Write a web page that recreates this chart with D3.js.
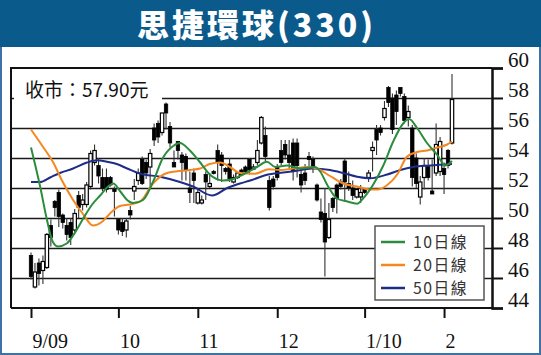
<html>
<head>
  <meta charset="utf-8">
  <script src="https://d3js.org/d3.v7.min.js"></script>
  <style>
    body { margin: 0; background: #fff; }
    .ylab { font-family: "Liberation Serif", "DejaVu Serif", serif; font-size: 21px; fill: #111; }
    .xlab { font-family: "Liberation Serif", "DejaVu Serif", serif; font-size: 20px; fill: #111; }
    .leg { font-family: "Noto Sans CJK TC", "Noto Sans", sans-serif; font-size: 15.8px; fill: #333; letter-spacing: 1.5px; }
  </style>
</head>
<body>
  <svg id="chart" width="541" height="355"></svg>
  <script>
    // daily candles, Sep 2009 - early Feb 2010
    const opens = [47.5,45.4,47.0,46.5,46.7,49.5,51.1,51.7,50.2,49.5,49.7,49.2,51.5,50.9,50.9,52.1,53.7,53.5,52.7,52.7,52.7,51.9,
      49.9,49.7,49.2,50.5,51.8,52.5,53.9,53.7,53.4,56.0,56.3,55.7,57.6,56.1,53.7,55.1,54.2,54.1,52.0,53.0,
      51.0,51.0,52.9,52.1,53.1,54.5,54.2,53.3,53.6,52.4,52.7,53.2,53.4,53.9,53.3,53.7,55.0,55.5,52.5,52.6,
      53.4,54.5,54.9,54.2,55.0,55.0,52.9,53.0,54.1,53.9,52.2,50.4,50.3,48.7,51.3,52.2,52.4,53.8,52.3,52.0,51.4,51.4,
      51.9,52.7,54.5,55.9,56.0,56.7,58.7,58.0,58.2,58.7,58.1,56.7,56.0,54.0,51.4,52.7,53.5,51.8,53.0,53.1,
      53.3,54.5,55.0];
    const highs = [47.7,47.0,47.3,47.5,49.0,49.9,51.2,51.9,50.3,50.0,50.0,50.6,51.8,51.6,52.4,54.5,54.9,54.0,53.3,53.3,52.8,52.1,
      49.9,50.0,50.0,50.8,52.6,53.3,54.1,53.9,54.6,56.3,56.5,57.0,57.7,56.4,54.5,55.1,54.4,54.3,53.1,53.3,
      52.0,51.5,53.1,53.0,53.2,54.9,54.4,53.4,54.0,52.9,53.1,53.3,53.5,54.0,53.6,55.2,56.8,56.1,52.8,52.8,
      53.6,55.2,55.2,55.2,55.3,55.3,53.2,53.6,54.4,54.1,52.3,51.3,52.0,51.0,51.4,52.3,52.6,54.0,53.1,52.5,52.0,52.2,
      52.0,53.2,55.1,56.2,56.2,57.8,58.8,58.3,58.5,58.7,58.3,57.5,56.2,54.3,52.8,54.0,53.9,53.9,56.3,55.4,
      53.7,54.6,59.6];
    const lows = [45.9,45.3,45.5,45.6,46.6,48.1,50.1,49.4,49.3,48.5,48.2,48.9,50.0,50.5,50.7,51.9,53.5,52.3,51.8,51.7,52.1,50.1,
      48.9,48.8,48.7,49.9,51.2,52.2,52.2,52.6,52.0,54.8,55.0,55.5,55.9,54.7,53.4,53.9,52.5,52.5,51.0,51.0,
      50.9,50.9,51.2,52.0,52.9,52.5,52.4,52.9,52.4,52.3,52.6,52.8,53.0,52.9,53.2,53.5,54.9,53.8,50.5,51.9,
      52.5,53.5,53.9,53.3,52.5,52.7,51.7,52.2,53.3,53.0,51.1,49.7,46.1,48.6,50.4,50.3,51.9,51.1,51.8,51.2,51.3,51.0,
      51.6,52.4,53.1,54.2,55.5,56.5,57.4,55.6,56.2,58.1,56.3,56.1,52.1,52.0,50.9,51.9,52.5,51.6,52.8,52.8,
      51.6,53.3,54.9];
    const closes = [46.1,46.4,46.3,47.1,48.9,48.7,50.7,50.1,49.7,48.9,48.7,50.3,50.7,51.2,52.2,54.3,54.5,52.8,52.0,51.9,52.2,51.8,
      49.2,49.1,49.8,50.2,52.1,53.0,52.3,53.0,54.3,55.2,55.4,57.0,57.0,55.0,53.4,54.5,53.7,53.2,51.7,52.5,
      51.7,51.2,52.4,52.3,53.0,53.7,53.5,53.1,52.6,52.7,53.0,52.9,53.1,53.2,53.4,54.5,56.7,54.1,50.7,52.1,
      52.7,53.7,54.2,53.7,53.1,53.5,52.2,52.5,53.9,53.4,51.2,49.9,48.4,49.9,50.7,51.3,52.1,52.4,52.0,51.5,51.9,51.7,
      51.7,53.0,54.7,55.2,55.7,57.3,57.7,55.9,57.1,58.3,56.5,57.1,52.7,52.3,52.4,53.5,52.7,51.6,54.9,55.1,
      52.9,53.5,57.9];

    // moving averages: position (trading-day index) and value
    const ma10Pos = [0,2.3,4,5.5,6.8,9,11,13,15.4,17.4,19.4,20.7,22.4,24.2,25.7,28.2,30.7,33.2,35.8,37.5,40,42.6,45,48.4,50.9,53.4,56.9,59.4,61.5,64.5,67.8,71.5,72.8,74.6,77,79.6,82.1,83.6,86.1,88.7,91.2,93.7,95.2,97.2,99.7,102.3,104.3,106];
    const ma10Val = [54.7,52.1,49.9,48.4,48.1,48.3,49.0,49.9,50.9,51.5,52.1,52.3,51.8,51.2,51.0,51.2,52.4,54.0,54.8,55.0,54.5,53.7,52.9,52.5,52.6,52.9,53.4,53.75,53.4,53.5,53.3,53.4,53.1,52.2,51.3,51.1,50.95,51.3,52.2,53.5,55.1,56.3,56.6,56.0,55.0,54.2,53.5,53.8];
    const ma20Pos = [0,3,5.5,7.8,10.6,13,15.6,17.9,19.9,22.4,24.9,27.5,30.7,34.3,40,42.6,45,47.6,50.1,52.6,56.4,59.9,62.7,66,69.5,72,75.3,78.6,82.1,85.4,87.2,89.7,92.2,94.7,97.2,99.7,102.3,104.8,106];
    const ma20Val = [55.9,54.75,53.75,52.5,51.2,50.3,49.5,49.75,50.3,50.8,50.9,51.1,52.3,53.0,53.2,53.3,53.6,53.7,53.4,53.0,52.95,53.25,53.2,53.3,53.4,53.3,52.8,52.3,52.1,51.9,51.9,52.2,52.9,54.1,54.4,54.5,54.7,54.9,55.1];
    const ma50Pos = [0,2.3,4.8,7.3,10.6,14.1,16.6,19.1,21.6,24.2,27.5,32.5,37.5,40.8,45.6,49.4,52.6,55.2,59.7,62.2,65.7,70.8,75.3,78.6,82.1,85.4,89.7,93,96.2,100.5,106];
    const ma50Val = [52.4,52.4,52.7,53.0,53.3,53.7,53.85,53.75,53.6,53.3,52.95,52.75,52.4,52.1,51.5,52.0,52.3,52.5,52.9,53.0,53.1,53.3,53.2,53.0,52.75,52.65,52.9,53.2,53.4,53.5,53.6];

    const monthIdx = [0, 22, 42, 62, 84, 104];
    const monthLabels = ["9/09", "10", "11", "12", "1/10", "2"];
    const priceTicks = [44, 46, 48, 50, 52, 54, 56, 58, 60];
    const legendNames = ["10日線", "20日線", "50日線"];
    const lastClose = "57.90";

    const svg = d3.select("#chart");
    const plotLeft = 11, plotRight = 492, plotTop = 68, plotBottom = 308;

    const x = d3.scaleLinear().domain([0, closes.length - 1]).range([31, 452]);
    const y = d3.scaleLinear().domain([44, 60]).range([plotBottom, plotTop]);

    // outer frame and title bar
    svg.append("rect").attr("x", 1).attr("y", 1).attr("width", 539).attr("height", 353)
      .attr("fill", "#fff").attr("stroke", "#3f72a4").attr("stroke-width", 2);
    svg.append("rect").attr("x", 0).attr("y", 0).attr("width", 541).attr("height", 47).attr("fill", "#0b5a8c");
    svg.append("text").attr("x", 137).attr("y", 37)
      .attr("textLength", 236).attr("lengthAdjust", "spacing")
      .style("font-family", "'Noto Sans CJK TC', sans-serif").style("font-weight", 900)
      .style("font-size", "32px").attr("fill", "#fff")
      .text("思捷環球(330)");

    // grid lines
    const grid = svg.append("g")
      .attr("transform", "translate(" + plotLeft + ",0)")
      .call(d3.axisRight(y).tickValues(priceTicks.slice(1, -1)).tickSize(plotRight - plotLeft).tickFormat(""));
    grid.select(".domain").remove();
    grid.selectAll("line").attr("stroke", "#1a1a1a").attr("stroke-width", 1.6);

    // candles
    const colors = { ma10: "#2a8c3c", ma20: "#f5871f", ma50: "#1d2c86" };
    const candles = svg.append("g");
    closes.forEach((c, i) => {
      const o = opens[i], up = c >= o;
      candles.append("line")
        .attr("x1", x(i)).attr("x2", x(i))
        .attr("y1", y(highs[i])).attr("y2", y(lows[i]))
        .attr("stroke", "#333").attr("stroke-width", 1.1);
      const bodyTop = y(Math.max(o, c)), h = Math.max(2, Math.abs(y(o) - y(c)));
      candles.append("rect")
        .attr("x", x(i) - 1.7).attr("y", bodyTop)
        .attr("width", 3.4).attr("height", h)
        .attr("fill", up ? "#fff" : "#000")
        .attr("stroke", "#000").attr("stroke-width", up ? 1.2 : 0.8);
    });

    // moving average lines
    const line = d3.line().x(d => x(d[0])).y(d => y(d[1])).curve(d3.curveMonotoneX);
    [[ma50Pos, ma50Val, colors.ma50], [ma20Pos, ma20Val, colors.ma20], [ma10Pos, ma10Val, colors.ma10]]
      .forEach(([p, v, col]) => {
        svg.append("path").datum(p.map((d, i) => [d, v[i]]))
          .attr("d", line).attr("fill", "none")
          .attr("stroke", col).attr("stroke-width", 2);
      });

    // frame: left and top
    svg.append("path")
      .attr("d", "M" + plotLeft + "," + plotBottom + "V" + plotTop + "H" + plotRight)
      .attr("fill", "none").attr("stroke", "#111").attr("stroke-width", 2);

    const yAxis = svg.append("g")
      .attr("transform", "translate(" + plotRight + ",0)")
      .call(d3.axisRight(y).tickValues(priceTicks).tickSize(11).tickPadding(5));
    yAxis.attr("font-family", null).attr("font-size", null);
    yAxis.select(".domain").attr("stroke", "#111").attr("stroke-width", 2.5);
    yAxis.selectAll("line").attr("stroke", "#111").attr("stroke-width", 2);
    yAxis.selectAll("text").attr("class", "ylab").attr("y", -8);

    const xAxis = svg.append("g")
      .attr("transform", "translate(0," + plotBottom + ")")
      .call(d3.axisBottom(x).tickValues(monthIdx).tickSize(10)
        .tickFormat((d, i) => monthLabels[i]));
    xAxis.attr("font-family", null).attr("font-size", null);
    xAxis.select(".domain").attr("d", "M" + plotLeft + ",0H" + plotRight).attr("stroke", "#111").attr("stroke-width", 2);
    xAxis.selectAll("line").attr("stroke", "#111").attr("stroke-width", 2);
    xAxis.selectAll("text").attr("class", "xlab").attr("text-anchor", "start")
      .attr("x", 1).attr("y", 26);

    // closing price label
    svg.append("rect").attr("x", 14).attr("y", 76).attr("width", 148).attr("height", 26).attr("fill", "#fff");
    svg.append("text").attr("x", 25).attr("y", 97)
      .style("font-family", "'Noto Sans CJK TC', 'Noto Sans', sans-serif").style("font-size", "19px")
      .attr("fill", "#111").text("收市：" + lastClose + "元");

    // legend
    const legend = svg.append("g").attr("transform", "translate(375,226)");
    legend.append("rect").attr("width", 109).attr("height", 74)
      .attr("fill", "#fff").attr("stroke", "#555").attr("stroke-width", 1.5);
    [colors.ma10, colors.ma20, colors.ma50].forEach((col, i) => {
      const ly = 16 + i * 23;
      legend.append("line").attr("x1", 6).attr("x2", 30).attr("y1", ly).attr("y2", ly)
        .attr("stroke", col).attr("stroke-width", 2.5);
      legend.append("text").attr("class", "leg").attr("x", 38).attr("y", ly + 6).text(legendNames[i]);
    });
  </script>
</body>
</html>
